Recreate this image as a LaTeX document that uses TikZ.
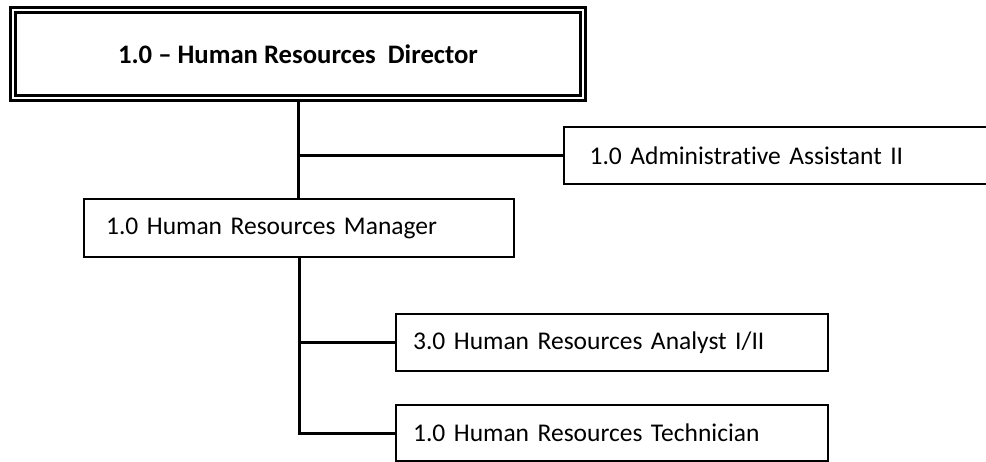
\documentclass[tikz,border=0pt]{standalone}
\usepackage{fontspec}
\setmainfont{Carlito}[Ligatures=NoCommon]
\usepackage{tikz}
\usetikzlibrary{positioning}

\begin{document}
\begin{tikzpicture}[x=1pt,y=-1pt,
	post/.style={draw,line width=2.2pt,rectangle,anchor=north west,align=left,inner xsep=0pt,font=\fontsize{25.5}{30}\selectfont},
	link/.style={line width=3pt}]
	\clip (0,0) rectangle (986,462);
	\node[draw,double,line width=2.4pt,double distance=2.4pt,minimum width=570pt,minimum height=88pt,inner sep=0pt,font=\fontsize{26.7}{30}\selectfont\bfseries] (dir) at (298,54) {1.0 -- Human Resources\ \ Director};
	\node[post,minimum width=440pt,minimum height=57pt,text width=423pt] (adm) at (563,126) {\hspace*{17pt}1.0 Administrative Assistant II};
	\node[post,minimum width=430pt,minimum height=58pt,text width=430pt] (mgr) at (83,198) {\hspace*{22pt}1.0 Human Resources Manager};
	\node[post,minimum width=432pt,minimum height=57pt,text width=432pt] (ana) at (395,313) {\hspace*{17pt}3.0 Human Resources Analyst I/II};
	\node[post,minimum width=432pt,minimum height=56pt,text width=432pt] (tech) at (395,404) {\hspace*{17pt}1.0 Human Resources Technician};
	\coordinate (j1) at (dir.south |- adm.west);
	\coordinate (j2) at (mgr.south |- ana.west);
	\coordinate (j3) at (mgr.south |- tech.west);
	\draw[link] (dir.south) -- (dir.south |- mgr.north);
	\draw[link] (j1) -- (adm.west);
	\draw[link] (mgr.south) -- (j3) -- (tech.west);
	\draw[link] (j2) -- (ana.west);
\end{tikzpicture}
\end{document}
